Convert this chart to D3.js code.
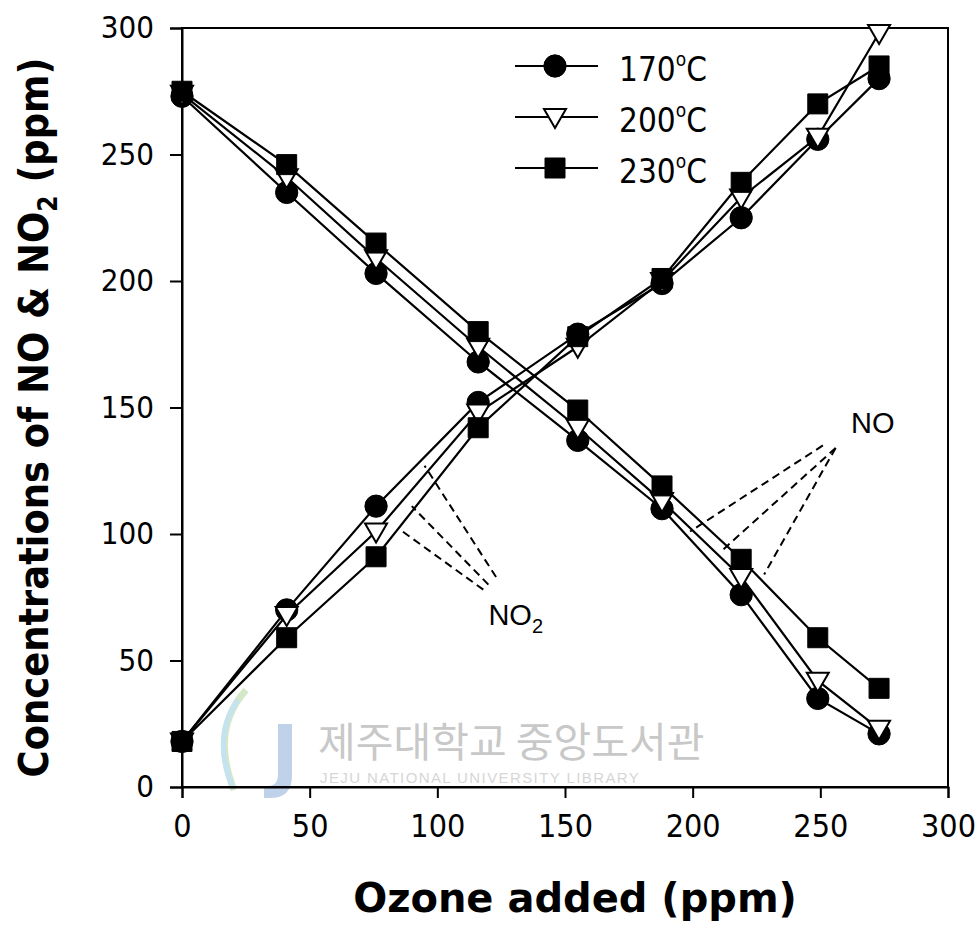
<!DOCTYPE html>
<html>
<head>
<meta charset="utf-8">
<script src="https://cdn.jsdelivr.net/npm/d3@7"></script>
<style>
  body { margin: 0; background: #fff; }
  svg { display: block; }
</style>
</head>
<body>
<svg id="chart" width="979" height="937"></svg>
<script>
// ozone added (ppm) – same doses for every temperature
const ozone = [0, 41, 76, 116, 155, 188, 219, 249, 273];

const temps = ["170", "200", "230"];
const symbols = ["circle", "triangle", "square"];

// NO concentrations (ppm)
const no170 = [273, 235, 203, 168, 137, 110, 76, 35, 21];
const no200 = [274, 241, 209, 174, 142, 113, 83, 42, 23];
const no230 = [275, 246, 215, 180, 149, 119, 90, 59, 39];

// NO2 concentrations (ppm)
const no2_170 = [18, 70, 111, 152, 179, 199, 225, 256, 280];
const no2_200 = [18, 68, 101, 148, 174, 200, 233, 257, 298];
const no2_230 = [18, 59, 91, 142, 178, 201, 239, 270, 285];

const xTicks = [0, 50, 100, 150, 200, 250, 300];
const yTicks = [0, 50, 100, 150, 200, 250, 300];

// dashed pointer lines, data coords [x1, y1, x2, y2]
const noPointers = [[251, 135, 199, 101], [256, 134, 211, 93], [256, 134, 228, 84]];
const no2Pointers = [[123, 83, 95, 127], [120, 80, 90, 111], [118, 78, 85, 102]];

const svg = d3.select("#chart"),
      width = +svg.attr("width"),
      height = +svg.attr("height"),
      margin = {top: 28, right: 31, bottom: 150, left: 182};

const x = d3.scaleLinear().domain([0, 300]).range([margin.left, width - margin.right]);
const y = d3.scaleLinear().domain([0, 300]).range([height - margin.bottom, margin.top]);

// library watermark (scanned stamp)
const wm = svg.append("g").attr("class", "watermark");
wm.append("path")
    .attr("d", "M278,724 h14 v52 q0,22 -22,22 h-6 v-12 h4 q10,0 10,-12 z")
    .attr("fill", "#b5c9e6").attr("opacity", 0.85);
wm.append("path")
    .attr("d", "M246,690 q-36,40 -12,100")
    .attr("stroke", "#d4e8c8").attr("stroke-width", 7).attr("fill", "none");
wm.append("path")
    .attr("d", "M238,700 q-26,36 -6,86")
    .attr("stroke", "#c4e2f0").attr("stroke-width", 5).attr("fill", "none");
wm.append("text")
    .attr("x", 318).attr("y", 757)
    .attr("font-family", "Noto Sans CJK KR")
    .attr("font-size", 41)
    .attr("fill", "#c8c8c8")
    .text("제주대학교 중앙도서관");
wm.append("text")
    .attr("x", 320).attr("y", 783)
    .attr("font-family", "Liberation Sans")
    .attr("font-size", 15)
    .attr("letter-spacing", 1.4)
    .attr("fill", "#d6d6d6")
    .text("JEJU NATIONAL UNIVERSITY  LIBRARY");

// frame
svg.append("rect")
    .attr("x", x(0)).attr("y", y(300))
    .attr("width", x(300) - x(0)).attr("height", y(0) - y(300))
    .attr("fill", "none").attr("stroke", "#000").attr("stroke-width", 2);

const xAxis = d3.axisBottom(x).tickValues(xTicks).tickSize(11).tickPadding(16);
const yAxis = d3.axisLeft(y).tickValues(yTicks).tickSize(12).tickPadding(16);

const gx = svg.append("g")
    .attr("transform", `translate(0,${y(0)})`)
    .call(xAxis);
gx.selectAll("text")
    .attr("font-family", "DejaVu Sans Condensed")
    .attr("font-size", 32)
    .attr("fill", "#000");

const gy = svg.append("g")
    .attr("transform", `translate(${x(0)},0)`)
    .call(yAxis);
gy.selectAll("text")
    .attr("font-family", "DejaVu Sans Condensed")
    .attr("font-size", 31)
    .attr("fill", "#000");

[gx, gy].forEach(g => {
    g.select(".domain").attr("stroke-width", 2);
    g.selectAll(".tick line").attr("stroke-width", 2);
});

// axis titles
svg.append("text")
    .attr("x", (x(0) + x(300)) / 2 + 10)
    .attr("y", 912)
    .attr("text-anchor", "middle")
    .attr("font-family", "DejaVu Sans")
    .attr("font-weight", "bold")
    .attr("font-size", 40)
    .text("Ozone added (ppm)");

const yTitle = svg.append("text")
    .attr("transform", `translate(48,${(y(0) + y(300)) / 2 + 10}) rotate(-90)`)
    .attr("text-anchor", "middle")
    .attr("font-family", "DejaVu Sans Condensed")
    .attr("font-weight", "bold")
    .attr("font-size", 41);
yTitle.append("tspan").text("Concentrations of NO & NO");
yTitle.append("tspan").attr("font-size", 26).attr("dy", 9).text("2");
yTitle.append("tspan").attr("dy", -9).text(" (ppm)");

// series
const series = [
    {temp: temps[0], symbol: symbols[0], no: no170, no2: no2_170},
    {temp: temps[1], symbol: symbols[1], no: no200, no2: no2_200},
    {temp: temps[2], symbol: symbols[2], no: no230, no2: no2_230}
];

const line = d3.line()
    .x(d => x(d[0]))
    .y(d => y(d[1]));

const symbolPath = {
    circle: d3.symbol().type(d3.symbolCircle).size(390)(),
    square: d3.symbol().type(d3.symbolSquare).size(400)(),
    triangle: "M-11,-8 L11,-8 L0,11 Z"
};

function drawMarker(g, sym, cx, cy) {
    g.append("path")
        .attr("d", symbolPath[sym])
        .attr("transform", `translate(${cx},${cy})`)
        .attr("fill", sym === "triangle" ? "#fff" : "#000")
        .attr("stroke", "#000")
        .attr("stroke-width", sym === "triangle" ? 2 : 1);
}

// dashed pointers
const pointers = svg.append("g")
    .attr("stroke", "#000").attr("stroke-width", 2)
    .attr("stroke-dasharray", "8,5");
noPointers.concat(no2Pointers).forEach(p => {
    pointers.append("line")
        .attr("x1", x(p[0])).attr("y1", y(p[1]))
        .attr("x2", x(p[2])).attr("y2", y(p[3]));
});

const lines = svg.append("g");
series.forEach(s => {
    [s.no, s.no2].forEach(vals => {
        lines.append("path")
            .datum(ozone.map((o, i) => [o, vals[i]]))
            .attr("d", line)
            .attr("fill", "none")
            .attr("stroke", "#000")
            .attr("stroke-width", 2.2);
    });
});

const markers = svg.append("g");
series.forEach(s => {
    [s.no, s.no2].forEach(vals => {
        ozone.forEach((o, i) => drawMarker(markers, s.symbol, x(o), y(vals[i])));
    });
});

// labels for the pointer groups
svg.append("text")
    .attr("x", x(262)).attr("y", y(140))
    .attr("font-family", "Liberation Sans")
    .attr("font-size", 29)
    .text("NO");

const no2Label = svg.append("text")
    .attr("x", x(120)).attr("y", y(64))
    .attr("font-family", "Liberation Sans")
    .attr("font-size", 29);
no2Label.append("tspan").text("NO");
no2Label.append("tspan").attr("font-size", 20).attr("dy", 8).text("2");

// legend
const legend = svg.append("g").attr("transform", "translate(515,66)");
series.forEach((s, i) => {
    const row = legend.append("g").attr("transform", `translate(0,${i * 51})`);
    row.append("line")
        .attr("x1", 0).attr("x2", 83)
        .attr("stroke", "#000").attr("stroke-width", 2);
    drawMarker(row, s.symbol, 40, 0);
    const t = row.append("text")
        .attr("x", 104).attr("y", 15)
        .attr("font-family", "DejaVu Sans Condensed")
        .attr("font-size", 33);
    t.append("tspan").text(s.temp);
    t.append("tspan").attr("font-size", 19).attr("dy", -15).text("o");
    t.append("tspan").attr("dy", 15).text("C");
});
</script>
</body>
</html>
